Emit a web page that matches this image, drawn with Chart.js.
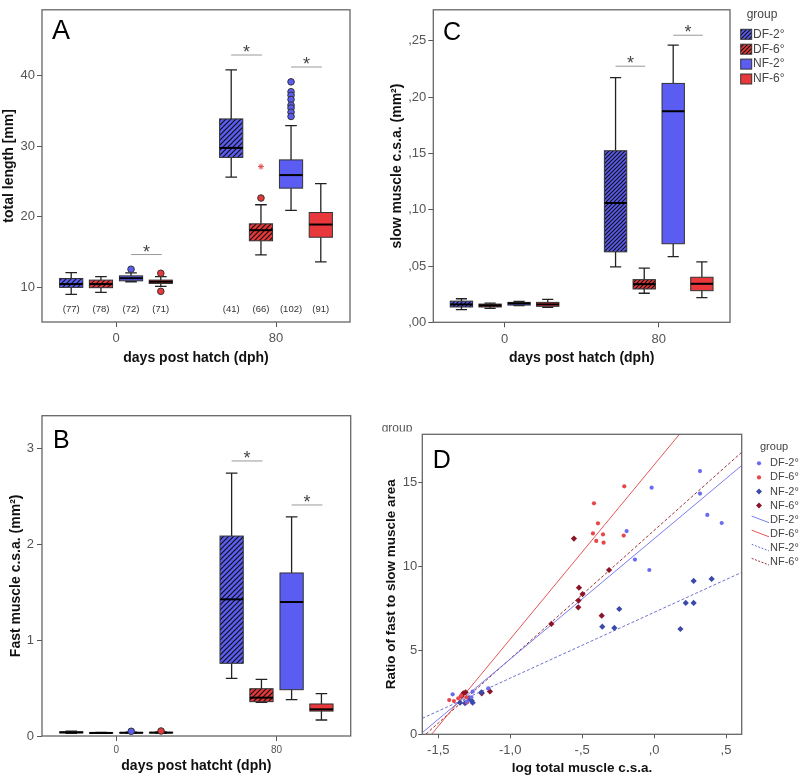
<!DOCTYPE html>
<html>
<head>
<meta charset="utf-8">
<script src="https://cdn.jsdelivr.net/npm/chart.js@4.4.1/dist/chart.umd.min.js"></script>
<style>
  body { margin: 0; background: #fff; width: 800px; height: 778px; position: relative; overflow: hidden; }
  canvas { position: absolute; }
</style>
</head>
<body>
<canvas id="chartA" width="360" height="380" style="left:0;top:0"></canvas>
<canvas id="chartC" width="440" height="380" style="left:360px;top:0"></canvas>
<canvas id="chartB" width="360" height="388" style="left:0;top:390px"></canvas>
<canvas id="chartD" width="440" height="388" style="left:360px;top:390px"></canvas>
<script>
// groups and days
const groups = ['DF-2°', 'DF-6°', 'NF-2°', 'NF-6°'];
const dayLabels = ['0', '80'];

// box plots: [lower whisker, Q1, median, Q3, upper whisker], order DF-2°, DF-6°, NF-2°, NF-6°
const lengthDay0 = [[9.02, 10.0, 10.47, 11.26, 12.1], [9.3, 9.96, 10.47, 11.03, 11.53], [10.8, 10.93, 11.3, 11.63, 12.05], [10.14, 10.56, 10.8, 11.03, 11.53]];
const lengthDay80 = [[25.6, 28.4, 29.75, 33.85, 40.8], [14.6, 16.6, 18.1, 19.0, 21.7], [20.9, 24.05, 25.9, 28.05, 32.9], [13.6, 17.1, 18.9, 20.6, 24.7]];
// outliers: [group, day, value]
const lengthOutliers = [[2, 0, 12.57], [3, 0, 12.0], [3, 0, 9.44], [1, 1, 22.65], [2, 1, 39.1], [2, 1, 37.7], [2, 1, 37.2], [2, 1, 36.6], [2, 1, 35.8], [2, 1, 35.4], [2, 1, 34.8], [2, 1, 34.2]];
const lengthExtremes = [[1, 1, 27.1]];
const lengthCounts = [['(77)', '(78)', '(72)', '(71)'], ['(41)', '(66)', '(102)', '(91)']];
// significance bars: [day, group from, group to, height]
const lengthSig = [[0, 2, 3, 14.65], [1, 0, 1, 42.9], [1, 2, 3, 41.2]];

const fastDay0 = [[0.028, 0.033, 0.038, 0.043, 0.05], [0.027, 0.030, 0.032, 0.034, 0.037], [0.030, 0.032, 0.034, 0.036, 0.040], [0.030, 0.033, 0.035, 0.038, 0.042]];
const fastDay80 = [[0.60, 0.758, 1.425, 2.085, 2.742], [0.35, 0.358, 0.40, 0.493, 0.59], [0.379, 0.483, 1.397, 1.70, 2.284], [0.167, 0.26, 0.278, 0.334, 0.441]];
const fastOutliers = [[2, 0, 0.049], [3, 0, 0.052]];
const fastSig = [[1, 0, 1, 2.868], [1, 2, 3, 2.409]];

const slowDay0 = [[0.0113, 0.0136, 0.0159, 0.0188, 0.0209], [0.0124, 0.0136, 0.015, 0.0162, 0.017], [0.0148, 0.0153, 0.0168, 0.0177, 0.0185], [0.0133, 0.0142, 0.0159, 0.0177, 0.0203]];
const slowDay80 = [[0.0492, 0.0626, 0.106, 0.1524, 0.2174], [0.0258, 0.0296, 0.0339, 0.0379, 0.0481], [0.0583, 0.0698, 0.1875, 0.2122, 0.2463], [0.022, 0.0281, 0.0342, 0.040, 0.0536]];
const slowSig = [[1, 0, 1, 0.2275], [1, 2, 3, 0.255]];

// tick labels
const lengthTicks = [10, 20, 30, 40];
const fastTicks = [0, 1, 2, 3];
const slowTicks = [0, 0.05, 0.10, 0.15, 0.20, 0.25];
const slowTickLabels = [',00', ',05', ',10', ',15', ',20', ',25'];
const logTicks = [-1.5, -1.0, -0.5, 0, 0.5];
const logTickLabels = ['-1,5', '-1,0', '-,5', ',0', ',5'];
const ratioTicks = [0, 5, 10, 15];

// panel D scatter: log total muscle c.s.a. vs ratio fast/slow
const logDF2 = [-0.017, 0.319, 0.319, 0.370, 0.470, -0.191, -0.133, -0.033, -1.40, -1.261, -1.152, -1.30, -1.27];
const ratioDF2 = [14.68, 15.67, 14.33, 13.06, 12.58, 12.10, 10.40, 9.78, 2.38, 2.54, 2.74, 1.95, 2.2];
const logDF6 = [-0.207, -0.418, -0.390, -0.425, -0.355, -0.402, -0.351, -0.211, -1.424, -1.391, -1.361, -1.303, -1.34, -1.30];
const ratioDF6 = [14.76, 13.75, 12.56, 11.96, 11.90, 11.51, 11.41, 11.83, 2.04, 1.98, 2.14, 2.2, 2.3, 1.9];
const logNF2 = [0.275, 0.400, 0.220, 0.275, -0.242, -0.360, -0.276, 0.183, -1.349, -1.314, -1.285, -1.268, -1.261, -1.20];
const ratioNF2 = [9.13, 9.25, 7.82, 7.82, 7.46, 6.41, 6.33, 6.27, 1.88, 1.85, 2.14, 2.0, 1.88, 2.5];
const logNF6 = [-0.557, -0.313, -0.522, -0.497, -0.525, -0.527, -0.364, -0.714, -1.326, -1.337, -1.198, -1.141, -1.31];
const ratioNF6 = [11.65, 9.78, 8.73, 8.35, 7.96, 7.56, 7.06, 6.57, 2.44, 2.28, 2.44, 2.55, 2.5];
// fit lines, value at both ends of the x range
const fitX = [-1.611, 0.609];
const fitDF2 = [0.1, 16.0];
const fitDF6 = [-0.67, 22.35];
const fitNF2 = [0.95, 9.64];
const fitNF6 = [-0.18, 16.79];

// styles
const FONT = "'Liberation Sans', Arial, sans-serif";
Chart.defaults.font.family = FONT;
Chart.defaults.animation = false;
const boxColors = ['#5a5cf2', '#e8383c', '#5a5cf2', '#e8383c'];
const hatched = [true, true, false, false];
const groupOffsets = [-0.28, -0.094, 0.094, 0.28];
const boxWidth = 0.145;

function hatch(ctx, color, size) {
  const c = document.createElement('canvas');
  c.width = size; c.height = size;
  const g = c.getContext('2d');
  g.fillStyle = color;
  g.fillRect(0, 0, size, size);
  g.strokeStyle = '#111';
  g.lineWidth = 1.2;
  g.beginPath();
  g.moveTo(-1, size + 1); g.lineTo(size + 1, -1);
  g.moveTo(-1, 1); g.lineTo(1, -1);
  g.moveTo(size - 1, size + 1); g.lineTo(size + 1, size - 1);
  g.stroke();
  return ctx.createPattern(c, 'repeat');
}

const framePlugin = {
  id: 'frame',
  afterDatasetsDraw(chart) {
    const { ctx, chartArea: a } = chart;
    ctx.save();
    ctx.strokeStyle = '#666';
    ctx.lineWidth = 1.3;
    ctx.strokeRect(a.left, a.top, a.right - a.left, a.bottom - a.top);
    ctx.restore();
  }
};

function axes(o) {
  return {
    x: {
      type: 'linear', min: o.xMin, max: o.xMax,
      afterBuildTicks: s => { s.ticks = o.xTicks.map(v => ({ value: v })); },
      afterFit: s => { s.height = o.xHeight; },
      ticks: { callback: (v, i) => o.xLabels[i], color: '#555', font: { size: o.xTickSize }, padding: o.xTickPad, maxRotation: 0, autoSkip: false },
      grid: { drawOnChartArea: false, tickLength: o.tickLen, color: '#555' },
      border: { display: false },
      title: { display: true, text: o.xTitle, color: '#111', font: { size: o.titleSize, weight: 'bold' }, padding: { top: 0, bottom: o.xTitlePad } }
    },
    y: {
      type: 'linear', min: o.yMin, max: o.yMax,
      afterBuildTicks: s => { s.ticks = o.yTicks.map(v => ({ value: v })); },
      afterFit: s => { s.width = o.yWidth; },
      ticks: { callback: (v, i) => o.yLabels[i], color: '#555', font: { size: o.yTickSize }, padding: o.yTickPad, autoSkip: false },
      grid: { drawOnChartArea: false, tickLength: o.tickLen, color: '#555' },
      border: { display: false },
      title: { display: true, text: o.yTitle, color: '#111', font: { size: o.titleSize, weight: 'bold' }, padding: { top: o.yTitlePad, bottom: 0 } }
    }
  };
}

function letterPlugin(letter, size, dx, dy) {
  return {
    id: 'letter',
    afterDraw(chart) {
      const { ctx, chartArea: a } = chart;
      ctx.save();
      ctx.font = size + 'px ' + FONT;
      ctx.fillStyle = '#000';
      ctx.textBaseline = 'alphabetic';
      ctx.fillText(letter, a.left + dx, a.top + dy);
      ctx.restore();
    }
  };
}

function boxPanel(id, o) {
  const canvas = document.getElementById(id);
  const ctx = canvas.getContext('2d');
  const fills = boxColors.map((c, g) => hatched[g] ? hatch(ctx, c, o.hatchSize) : c);
  const pos = (d, g) => d + groupOffsets[g];
  const stats = [o.day0, o.day80];

  const boxes = {
    id: 'boxes',
    beforeDatasetsDraw(chart) {
      const x = chart.scales.x, y = chart.scales.y;
      const half = (x.getPixelForValue(boxWidth) - x.getPixelForValue(0)) / 2;
      ctx.save();
      stats.forEach((day, d) => day.forEach((s, g) => {
        const cx = x.getPixelForValue(pos(d, g));
        const [lo, q1, med, q3, hi] = s.map(v => y.getPixelForValue(v));
        ctx.strokeStyle = '#222';
        ctx.lineWidth = 1.3;
        ctx.beginPath();
        ctx.moveTo(cx, hi); ctx.lineTo(cx, q3);
        ctx.moveTo(cx, q1); ctx.lineTo(cx, lo);
        ctx.moveTo(cx - half / 2, hi); ctx.lineTo(cx + half / 2, hi);
        ctx.moveTo(cx - half / 2, lo); ctx.lineTo(cx + half / 2, lo);
        ctx.stroke();
        ctx.fillStyle = fills[g];
        ctx.fillRect(cx - half, q3, 2 * half, q1 - q3);
        ctx.strokeStyle = '#333';
        ctx.lineWidth = 1;
        ctx.strokeRect(cx - half, q3, 2 * half, q1 - q3);
        ctx.strokeStyle = '#000';
        ctx.lineWidth = 2;
        ctx.beginPath();
        ctx.moveTo(cx - half, med); ctx.lineTo(cx + half, med);
        ctx.stroke();
      }));
      // significance bars
      ctx.font = '18px ' + FONT;
      ctx.textAlign = 'center';
      ctx.textBaseline = 'alphabetic';
      o.sig.forEach(([d, g1, g2, v]) => {
        const x1 = x.getPixelForValue(pos(d, g1)), x2 = x.getPixelForValue(pos(d, g2)) + 1;
        const py = y.getPixelForValue(v);
        ctx.strokeStyle = '#999';
        ctx.lineWidth = 1;
        ctx.beginPath();
        ctx.moveTo(x1, py); ctx.lineTo(x2, py);
        ctx.stroke();
        ctx.fillStyle = '#444';
        ctx.fillText('*', (x1 + x2) / 2, py + 3);
      });
      // sample sizes
      if (o.counts) {
        ctx.font = '9.5px ' + FONT;
        ctx.fillStyle = '#333';
        ctx.textBaseline = 'middle';
        o.counts.forEach((row, d) => row.forEach((t, g) => {
          ctx.fillText(t, x.getPixelForValue(pos(d, g)), chart.chartArea.bottom - 13);
        }));
      }
      ctx.restore();
    }
  };

  const legend = {
    id: 'boxLegend',
    afterDraw(chart) {
      if (!o.legend) return;
      ctx.save();
      ctx.font = '12px ' + FONT;
      ctx.fillStyle = '#444';
      ctx.textBaseline = 'middle';
      ctx.fillText('group', 386.7, 15);
      groups.forEach((name, g) => {
        const yy = 34.3 + g * 14.9;
        ctx.fillStyle = fills[g];
        ctx.fillRect(380.7, yy - 5, 11, 10);
        ctx.strokeStyle = '#333';
        ctx.lineWidth = 1;
        ctx.strokeRect(380.7, yy - 5, 11, 10);
        ctx.fillStyle = '#444';
        ctx.fillText(name, 393, yy);
      });
      ctx.restore();
    }
  };

  const datasets = groups.map((name, g) => ({
    label: name,
    data: o.outliers.filter(r => r[0] === g).map(r => ({ x: pos(r[1], g), y: r[2] })),
    pointRadius: 3.3,
    pointBackgroundColor: boxColors[g],
    pointBorderColor: '#333',
    pointBorderWidth: 1
  }));
  if (o.extremes) {
    datasets.push({
      label: 'extreme',
      data: o.extremes.map(r => ({ x: pos(r[1], r[0]), y: r[2] })),
      pointStyle: 'star',
      pointRadius: 3,
      pointBorderColor: '#e0484c',
      pointBorderWidth: 1
    });
  }

  new Chart(canvas, {
    type: 'scatter',
    data: { datasets },
    options: {
      responsive: false,
      layout: { padding: { left: 0, top: o.padTop, right: o.padRight, bottom: 0 } },
      plugins: { legend: { display: false }, tooltip: { enabled: false } },
      scales: axes(o)
    },
    plugins: [boxes, framePlugin, legend, letterPlugin(o.letter, o.letterSize, o.letterDx, o.letterDy)]
  });
}

boxPanel('chartA', {
  day0: lengthDay0, day80: lengthDay80, outliers: lengthOutliers, extremes: lengthExtremes,
  counts: lengthCounts, sig: lengthSig, hatchSize: 5,
  padTop: 4, padRight: 10, yWidth: 42, xHeight: 58,
  xMin: -0.4625, xMax: 1.4625, xTicks: [0, 1], xLabels: dayLabels, xTickSize: 13, xTickPad: 4,
  yMin: 5.1, yMax: 49.3, yTicks: lengthTicks, yLabels: lengthTicks.map(String), yTickSize: 13, yTickPad: 2,
  tickLen: 5, titleSize: 14, xTitle: 'days post hatch (dph)', xTitlePad: 13.6,
  yTitle: 'total length [mm]', yTitlePad: 0.8,
  letter: 'A', letterSize: 27, letterDx: 10, letterDy: 29
});

boxPanel('chartC', {
  day0: slowDay0, day80: slowDay80, outliers: [], sig: slowSig, hatchSize: 4, legend: true,
  padTop: 3.3, padRight: 70, yWidth: 73.3, xHeight: 57.7,
  xMin: -0.4625, xMax: 1.4625, xTicks: [0, 1], xLabels: dayLabels, xTickSize: 13, xTickPad: 4,
  yMin: 0, yMax: 0.2776, yTicks: slowTicks, yLabels: slowTickLabels, yTickSize: 13, yTickPad: 2,
  tickLen: 5, titleSize: 14, xTitle: 'days post hatch (dph)', xTitlePad: 13.3,
  yTitle: 'slow muscle c.s.a. (mm²)', yTitlePad: 28.3,
  letter: 'C', letterSize: 25, letterDx: 9.7, letterDy: 30
});

boxPanel('chartB', {
  day0: fastDay0, day80: fastDay80, outliers: fastOutliers, sig: fastSig, hatchSize: 5,
  padTop: 25.7, padRight: 9.3, yWidth: 42, xHeight: 42,
  xMin: -0.4625, xMax: 1.4625, xTicks: [0, 1], xLabels: dayLabels, xTickSize: 10, xTickPad: 3,
  yMin: 0, yMax: 3.34, yTicks: fastTicks, yLabels: fastTicks.map(String), yTickSize: 13, yTickPad: 3,
  tickLen: 5, titleSize: 14, xTitle: 'days post hatcht (dph)', xTitlePad: 3.6,
  yTitle: 'Fast muscle c.s.a. (mm²)', yTitlePad: 7.6,
  letter: 'B', letterSize: 25, letterDx: 11, letterDy: 32.6
});

// panel D: scatter with fit lines
(function () {
  const canvas = document.getElementById('chartD');
  const pointColors = ['#6a6cf0', '#e8474a', '#3b4aa8', '#8c1428'];
  const lineColors = ['#7a7cf0', '#e45558', '#6a72d0', '#a03038'];
  const dashed = [false, false, true, true];
  const xs = [logDF2, logDF6, logNF2, logNF6];
  const ys = [ratioDF2, ratioDF6, ratioNF2, ratioNF6];
  const fits = [fitDF2, fitDF6, fitNF2, fitNF6];
  const pointSets = groups.map((name, g) => ({
    label: name,
    data: xs[g].map((v, i) => ({ x: v, y: ys[g][i] })),
    pointStyle: g < 2 ? 'circle' : 'rectRot',
    pointRadius: g < 2 ? 2.1 : 3.1,
    pointBackgroundColor: pointColors[g],
    pointBorderColor: pointColors[g],
    pointBorderWidth: 0
  }));
  const lineSets = groups.map((name, g) => ({
    label: name + ' fit',
    data: fitX.map((v, i) => ({ x: v, y: fits[g][i] })),
    showLine: true,
    pointRadius: 0,
    borderColor: lineColors[g],
    borderWidth: 1,
    borderDash: dashed[g] ? [3, 2] : []
  }));

  const legendD = {
    id: 'legendD',
    afterDraw(chart) {
      const ctx = chart.ctx;
      ctx.save();
      // stray clipped label above the plot
      ctx.save();
      ctx.beginPath();
      ctx.rect(15, 28, 40, 13.5);
      ctx.clip();
      ctx.font = '12px ' + FONT;
      ctx.fillStyle = '#555';
      ctx.textBaseline = 'alphabetic';
      ctx.fillText('group', 21.7, 41.5);
      ctx.restore();

      ctx.font = '11px ' + FONT;
      ctx.textBaseline = 'middle';
      ctx.fillStyle = '#444';
      ctx.fillText('group', 400, 56.7);
      groups.forEach((name, g) => {
        const yy = 73.3 + g * 14.1;
        ctx.fillStyle = pointColors[g];
        ctx.beginPath();
        if (g < 2) {
          ctx.arc(399, yy, 2.1, 0, Math.PI * 2);
        } else {
          ctx.moveTo(399, yy - 3); ctx.lineTo(402, yy); ctx.lineTo(399, yy + 3); ctx.lineTo(396, yy);
          ctx.closePath();
        }
        ctx.fill();
        ctx.fillStyle = '#444';
        ctx.fillText(name, 410, yy);
      });
      groups.forEach((name, g) => {
        const yy = 73.3 + (g + 4) * 14.1;
        ctx.strokeStyle = lineColors[g];
        ctx.lineWidth = 1;
        ctx.setLineDash(dashed[g] ? [2, 1.5] : []);
        ctx.beginPath();
        ctx.moveTo(391.7, yy - 3.6); ctx.lineTo(409, yy + 3);
        ctx.stroke();
        ctx.setLineDash([]);
        ctx.fillStyle = '#444';
        ctx.fillText(name, 410, yy);
      });
      ctx.restore();
    }
  };

  new Chart(canvas, {
    type: 'scatter',
    data: { datasets: pointSets.concat(lineSets) },
    options: {
      responsive: false,
      layout: { padding: { left: 0, top: 44.3, right: 58.3, bottom: 0 } },
      plugins: { legend: { display: false }, tooltip: { enabled: false } },
      scales: axes({
        xMin: -1.611, xMax: 0.609, xTicks: logTicks, xLabels: logTickLabels, xTickSize: 13, xTickPad: 4,
        yMin: 0, yMax: 17.86, yTicks: ratioTicks, yLabels: ratioTicks.map(String), yTickSize: 13, yTickPad: 1,
        tickLen: 4, titleSize: 13.5, xHeight: 43.7, yWidth: 62.3,
        xTitle: 'log total muscle c.s.a.', xTitlePad: 1.6,
        yTitle: 'Ratio of fast to slow muscle area', yTitlePad: 23.6
      })
    },
    plugins: [framePlugin, legendD, letterPlugin('D', 25, 10.4, 33.4)]
  });
})();
</script>
</body>
</html>
